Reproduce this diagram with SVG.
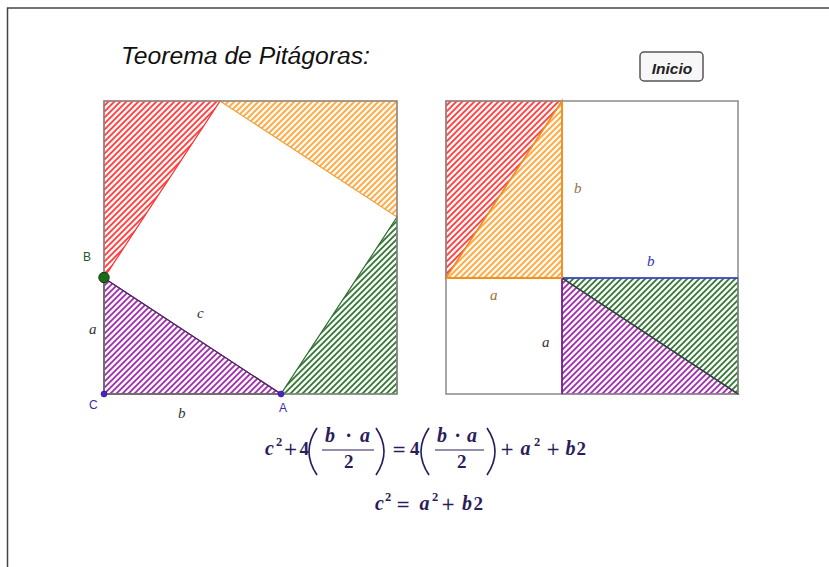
<svg xmlns="http://www.w3.org/2000/svg" width="829" height="567" viewBox="0 0 829 567">
<defs>
<pattern id="hR" patternUnits="userSpaceOnUse" width="6" height="6"><rect width="6" height="6" fill="#fff4f4"/><path d="M-1,1 L1,-1 M0,6 L6,0 M5,7 L7,5" stroke="#ff3a3a" stroke-width="1.7"/></pattern>
<pattern id="hO" patternUnits="userSpaceOnUse" width="6" height="6"><rect width="6" height="6" fill="#fff8ee"/><path d="M-1,1 L1,-1 M0,6 L6,0 M5,7 L7,5" stroke="#ffa53a" stroke-width="1.7"/></pattern>
<pattern id="hG" patternUnits="userSpaceOnUse" width="6" height="6"><rect width="6" height="6" fill="#f4f9f4"/><path d="M-1,1 L1,-1 M0,6 L6,0 M5,7 L7,5" stroke="#367336" stroke-width="1.7"/></pattern>
<pattern id="hP" patternUnits="userSpaceOnUse" width="6" height="6"><rect width="6" height="6" fill="#fcf3fc"/><path d="M-1,1 L1,-1 M0,6 L6,0 M5,7 L7,5" stroke="#9a2eaa" stroke-width="1.7"/></pattern>
</defs>
<style>
.lbl{font-family:"Liberation Serif",serif;font-style:italic;font-size:15px;fill:#333}
.pt{font-family:"Liberation Sans",Arial,sans-serif;font-size:12px}
.m{font-family:"Liberation Serif",serif;font-weight:bold;font-style:italic;font-size:20px;fill:#2b1d5c}
.d{font-family:"Liberation Serif",serif;font-weight:bold;font-size:19px;fill:#2b1d5c}
.s{font-family:"Liberation Serif",serif;font-weight:bold;font-size:12.5px;fill:#2b1d5c}
.o{font-family:"DejaVu Sans",sans-serif;font-size:17px;fill:#2b1d5c}
.par{fill:none;stroke:#2b1d5c;stroke-width:1.7}
.frac{stroke:#2b1d5c;stroke-width:1.2}
.sq{fill:none;stroke:#8a8a8a;stroke-width:1.5}
</style>
<rect width="829" height="567" fill="#ffffff"/>
<path d="M7.5,567 V8 H829" fill="none" stroke="#444" stroke-width="1.5"/>
<text x="121" y="64" font-family="Liberation Sans,Arial,sans-serif" font-style="italic" font-size="24.7" fill="#111">Teorema de Pitágoras:</text>
<g id="btn-inicio">
<rect x="640" y="52" width="63" height="29" rx="4" fill="#f7f7f7" stroke="#555" stroke-width="1.5"/>
<text x="672" y="74" text-anchor="middle" font-family="Liberation Sans,Arial,sans-serif" font-weight="bold" font-style="italic" font-size="15.5" fill="#222">Inicio</text>
</g>
<g id="left-square">
<polygon id="tri-red-L" points="104,101 220,101 104,278" fill="url(#hR)" stroke="#ff3030" stroke-width="1.2"/>
<polygon id="tri-orange-L" points="220,101 397,101 397,217" fill="url(#hO)" stroke="#f0a040" stroke-width="1.2"/>
<polygon id="tri-green-L" points="397,217 397,394 281,394" fill="url(#hG)" stroke="#2e6e2e" stroke-width="1.2"/>
<polygon id="tri-purple-L" points="104,278 104,394 281,394" fill="url(#hP)" stroke="#7a2a88" stroke-width="1.2"/>
<rect class="sq" x="104" y="101" width="293" height="293"/>
</g>
<g id="right-square">
<polygon id="tri-red-R" points="446,101 562,101 446,278" fill="url(#hR)" stroke="#ff3030" stroke-width="1.2"/>
<polygon id="tri-orange-R" points="562,101 562,278 446,278" fill="url(#hO)" stroke="#f09020" stroke-width="1.6"/>
<polygon id="tri-green-R" points="562,278 738,278 738,394" fill="url(#hG)" stroke="#2e6e2e" stroke-width="1.2"/>
<polygon id="tri-purple-R" points="562,278 562,394 738,394" fill="url(#hP)" stroke="#8a2a98" stroke-width="1.2"/>
<rect class="sq" x="446" y="101" width="292" height="293"/>
</g>
<g id="connectors">
<line x1="104" y1="278" x2="281" y2="394" stroke="#4a2a5a" stroke-width="1.2"/>
<line x1="104" y1="278" x2="104" y2="394" stroke="#666" stroke-width="1.5"/>
<line x1="104" y1="394" x2="281" y2="394" stroke="#666" stroke-width="1.5"/>
<line x1="562" y1="278" x2="738" y2="278" stroke="#3a3ad0" stroke-width="1.5"/>
<line x1="562" y1="278" x2="738" y2="394" stroke="#1d4a2a" stroke-width="1.3"/>
<line x1="562" y1="278" x2="562" y2="394" stroke="#6a1a88" stroke-width="1.5"/>
<line x1="446" y1="278" x2="562" y2="278" stroke="#f09020" stroke-width="1.8"/>
<line x1="562" y1="101" x2="562" y2="278" stroke="#f09020" stroke-width="1.8"/>
</g>
<g id="point-B"><circle cx="104" cy="277.5" r="5.2" fill="#1b6b1b" stroke="#0c3a0c" stroke-width="1"/><text class="pt" x="83" y="261" fill="#1e5a1e">B</text></g>
<g id="point-C"><circle cx="104" cy="394" r="3" fill="#4a22c8" stroke="#2a1080" stroke-width="0.6"/><text class="pt" x="89" y="409" fill="#3a2ab0">C</text></g>
<g id="point-A"><circle cx="281" cy="394" r="3" fill="#4a22c8" stroke="#2a1080" stroke-width="0.6"/><text class="pt" x="279" y="412" fill="#3a2ab0">A</text></g>
<g id="labels">
<text class="lbl" x="89" y="334">a</text>
<text class="lbl" x="197" y="318">c</text>
<text class="lbl" x="178" y="418">b</text>
<text class="lbl" x="574" y="193" style="fill:#9a7040">b</text>
<text class="lbl" x="647" y="266" style="fill:#3030b0">b</text>
<text class="lbl" x="490" y="300" style="fill:#9a7040">a</text>
<text class="lbl" x="542" y="347">a</text>
</g>
<g id="formula1">
<text class="m" x="265" y="455">c</text>
<text class="s" x="276" y="446">2</text>
<text class="o" x="283.5" y="455">+</text>
<text class="d" x="299.5" y="455">4</text>
<path class="par" d="M317,428 Q301,451.5 317,475"/>
<text class="m" x="325" y="442">b</text>
<text class="m" x="346" y="442">·</text>
<text class="m" x="360" y="442">a</text>
<line class="frac" x1="322" y1="450" x2="374" y2="450"/>
<text class="d" x="344" y="468">2</text>
<path class="par" d="M376,428 Q392,451.5 376,475"/>
<text class="o" x="392" y="455">=</text>
<text class="d" x="410" y="455">4</text>
<path class="par" d="M429,428 Q413,451.5 429,475"/>
<text class="m" x="437" y="442">b</text>
<text class="m" x="455" y="442">·</text>
<text class="m" x="467" y="442">a</text>
<line class="frac" x1="435" y1="450" x2="484" y2="450"/>
<text class="d" x="457" y="468">2</text>
<path class="par" d="M487,428 Q503,451.5 487,475"/>
<text class="o" x="500" y="455">+</text>
<text class="m" x="520.5" y="455">a</text>
<text class="s" x="534" y="446">2</text>
<text class="o" x="546" y="455">+</text>
<text class="m" x="565.5" y="455">b</text>
<text class="d" x="576.5" y="455">2</text>
</g>
<g id="formula2">
<text class="m" x="375" y="510">c</text>
<text class="s" x="385" y="501">2</text>
<text class="o" x="396" y="510">=</text>
<text class="m" x="419.5" y="510">a</text>
<text class="s" x="432" y="501">2</text>
<text class="o" x="441" y="510">+</text>
<text class="m" x="462" y="510">b</text>
<text class="d" x="473.5" y="510">2</text>
</g>
</svg>
